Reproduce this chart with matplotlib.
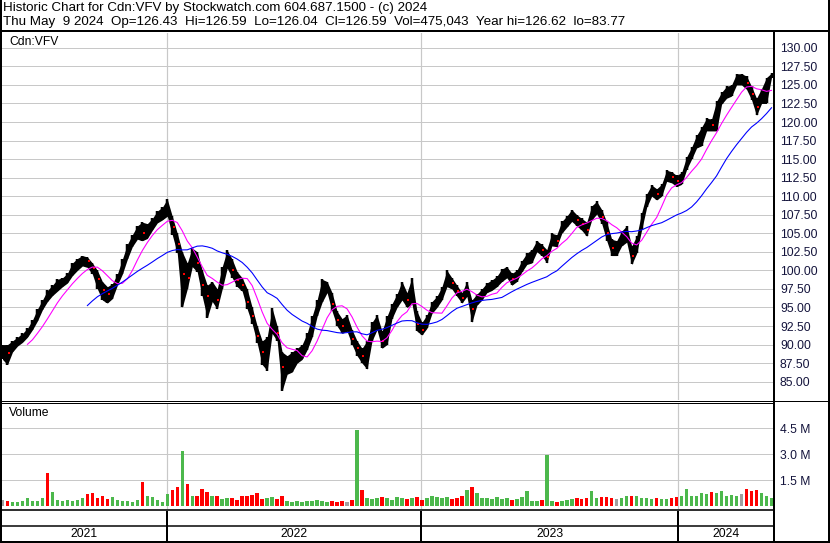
import matplotlib
matplotlib.use("Agg")
import matplotlib.pyplot as plt
import numpy as np
import pandas as pd

plt.rcParams['font.family'] = ['Liberation Sans', 'DejaVu Sans']

W, H = 830, 543

# weekly envelope of the daily bars (CAD)
high = [90.0, 90.0, 90.5, 91.0, 91.5, 92.2, 93.3, 94.8, 96.0, 97.3,
        98.0, 98.8, 99.0, 99.6, 101.0, 101.6, 102.0, 101.8, 101.0, 100.0,
        98.5, 97.8, 98.2, 99.5, 101.5, 103.5, 104.8, 106.0, 106.5, 106.3,
        107.0, 108.0, 108.5, 109.6, 107.3, 105.0, 102.5, 101.0, 103.0, 102.5,
        100.0, 98.0, 98.5, 97.5, 100.5, 102.7, 101.5, 99.8, 99.0, 97.5,
        95.0, 92.5, 90.5, 91.0, 94.9, 92.5, 89.0, 88.5, 89.0, 89.5,
        90.0, 91.5, 93.8, 96.0, 98.8, 98.5, 97.0, 94.5, 93.5, 94.0,
        92.0, 90.5, 89.5, 90.5, 93.0, 94.0, 91.8, 93.8, 95.5, 96.8,
        98.5, 97.0, 99.0, 94.5, 93.0, 94.0, 95.8, 96.5, 97.8, 100.0,
        99.0, 98.0, 97.0, 98.5, 96.0, 96.8, 97.5, 98.3, 98.7, 99.2,
        100.2, 100.5, 99.6, 100.0, 101.3, 102.3, 102.8, 104.0, 103.5, 102.8,
        105.0, 104.8, 106.6, 107.3, 108.2, 107.5, 107.0, 106.5, 108.7, 109.3,
        108.2, 106.5, 104.2, 104.0, 105.3, 106.0, 103.3, 104.6, 107.8, 110.3,
        111.5, 111.0, 111.6, 113.5, 113.3, 112.8, 113.2, 115.3, 116.6, 118.2,
        119.3, 120.5, 120.4, 122.8, 124.0, 124.8, 125.0, 126.5, 126.5, 126.2,
        124.8, 123.2, 124.5, 126.0, 126.6]
low = [88.0, 87.3, 89.0, 89.8, 90.3, 91.0, 92.0, 93.2, 94.7, 95.8,
       96.6, 97.2, 97.8, 98.3, 99.3, 100.0, 100.6, 100.4, 99.5, 97.5,
       96.0, 95.6, 96.2, 98.0, 99.5, 101.5, 103.2, 104.2, 104.0, 104.3,
       105.4, 106.4, 106.8, 107.3, 104.8, 102.3, 95.0, 97.5, 100.5, 99.8,
       96.5, 93.6, 95.8, 94.8, 97.5, 100.3, 99.0, 97.8, 97.2, 94.8,
       92.8, 90.2, 87.3, 86.5, 91.5, 90.5, 83.8, 86.0, 86.3, 87.5,
       88.0, 89.3, 91.0, 93.8, 95.7, 97.0, 94.5, 92.5, 91.5, 91.8,
       90.0, 88.5, 87.5, 86.7, 90.5, 92.0, 89.5, 90.0, 93.5, 95.0,
       96.0, 95.0, 95.5, 91.8, 91.3, 92.2, 94.2, 95.0, 96.0, 97.8,
       97.5, 96.5, 95.6, 96.5, 93.0, 95.3, 96.0, 97.0, 97.3, 97.8,
       98.5, 99.0, 98.0, 98.5, 99.8, 100.8, 101.0, 102.5, 102.0, 101.0,
       103.3, 103.2, 105.0, 105.8, 106.6, 106.0, 105.4, 104.6, 106.8, 107.6,
       106.3, 104.0, 102.0, 102.0, 103.3, 103.8, 100.8, 102.3, 105.5, 108.5,
       110.0, 109.5, 110.0, 112.0, 111.8, 111.3, 111.6, 113.6, 115.0, 116.5,
       116.8, 118.8, 118.8, 118.8, 122.4, 123.2, 123.5, 125.0, 125.0, 124.4,
       123.0, 120.9, 122.5, 122.5, 126.0]
close = [89.0, 88.8, 89.8, 90.3, 90.8, 91.5, 92.7, 94.0, 95.3, 96.5,
         97.3, 98.0, 98.3, 98.9, 100.2, 100.8, 101.3, 101.2, 100.3, 98.8,
         97.3, 96.8, 97.3, 98.8, 100.5, 102.5, 104.0, 105.2, 105.0, 105.3,
         106.2, 107.2, 107.5, 108.5, 105.8, 103.5, 99.5, 99.0, 102.0, 101.0,
         98.0, 96.5, 97.0, 96.0, 99.5, 101.5, 100.0, 98.7, 98.0, 95.7,
         93.8, 91.2, 89.0, 89.5, 93.2, 91.5, 87.0, 87.2, 87.8, 88.5,
         89.0, 90.5, 92.0, 95.0, 97.3, 97.8, 95.5, 93.3, 92.5, 92.5,
         90.8, 89.5, 88.5, 89.0, 92.0, 93.0, 90.5, 92.5, 94.5, 96.0,
         97.0, 96.0, 97.0, 92.8, 92.0, 93.0, 95.0, 95.8, 96.8, 98.7,
         98.3, 97.2, 96.3, 97.5, 94.8, 96.0, 96.8, 97.6, 98.0, 98.5,
         99.3, 99.8, 98.8, 99.3, 100.6, 101.6, 101.8, 103.3, 102.7, 101.8,
         104.2, 104.0, 105.8, 106.6, 107.4, 106.8, 106.2, 105.5, 107.8, 108.5,
         107.2, 105.0, 103.0, 103.0, 104.3, 104.8, 102.0, 103.5, 106.8, 109.5,
         110.7, 110.3, 110.8, 112.8, 112.6, 112.0, 112.5, 114.5, 115.8, 117.3,
         118.0, 119.7, 119.6, 121.0, 123.2, 124.0, 124.3, 125.8, 125.8, 125.2,
         123.8, 122.0, 123.5, 124.5, 126.59]
# millions of units
volume = [0.35, 0.3, 0.25, 0.2, 0.3, 0.45, 0.3, 0.3, 0.45, 1.9,
          0.8, 0.35, 0.3, 0.35, 0.3, 0.35, 0.45, 0.7, 0.75, 0.45,
          0.6, 0.4, 0.5, 0.35, 0.3, 0.3, 0.25, 0.35, 1.4, 0.6,
          0.5, 0.35, 0.25, 0.7, 0.9, 1.1, 3.2, 1.25, 0.55, 0.6,
          1.0, 0.8, 0.55, 0.6, 0.4, 0.45, 0.45, 0.35, 0.55, 0.6,
          0.65, 0.75, 0.4, 0.45, 0.5, 0.4, 0.55, 0.3, 0.25, 0.3,
          0.25, 0.3, 0.3, 0.35, 0.3, 0.25, 0.3, 0.25, 0.3, 0.25,
          0.35, 4.4, 0.9, 0.45, 0.4, 0.45, 0.5, 0.45, 0.35, 0.5,
          0.45, 0.4, 0.45, 0.5, 0.35, 0.45, 0.55, 0.5, 0.45, 0.5,
          0.4, 0.45, 0.55, 0.9, 1.1, 0.75, 0.45, 0.45, 0.4, 0.5,
          0.4, 0.45, 0.35, 0.4, 0.5, 0.85, 0.3, 0.3, 0.35, 2.95,
          0.3, 0.25, 0.3, 0.35, 0.4, 0.45, 0.4, 0.45, 0.85, 0.45,
          0.5, 0.5, 0.45, 0.4, 0.45, 0.55, 0.6, 0.55, 0.45, 0.45,
          0.4, 0.45, 0.4, 0.4, 0.45, 0.5, 0.55, 1.0, 0.55, 0.6,
          0.75, 0.7, 0.8, 0.75, 0.85, 0.6, 0.65, 0.55, 0.7, 1.0,
          0.85, 0.95, 0.75, 0.55, 0.45]
# colour of the big volume spikes as seen on the chart (up day = green)
spike_color = {9: 'down', 28: 'down', 36: 'up', 71: 'up', 109: 'up'}

year_labels = ['2021', '2022', '2023', '2024']
year_edges = [-0.1, 32.9, 83.9, 135.3, 154.3]   # week index where each year starts
price_ticks = np.arange(85, 130.01, 2.5)
vol_ticks = [1.5, 3.0, 4.5]

title1 = 'Historic Chart for Cdn:VFV by Stockwatch.com 604.687.1500 - (c) 2024'
title2 = ('Thu May  9 2024  Op=126.43  Hi=126.59  Lo=126.04  Cl=126.59  '
          'Vol=475,043  Year hi=126.62  lo=83.77')

PX = 0.72  # points per pixel
grid_c = '#C8C8C8'
lab_c = '#14143C'
up_c, down_c, flat_c = '#4CB84C', '#FF0000', '#A0A0A0'


def box(l, t, r, b):
    return [l / W, 1 - b / H, (r - l) / W, (b - t) / H]


fig = plt.figure(figsize=(W / 100, H / 100), dpi=100)

frame = fig.add_axes([0, 0, 1, 1])
frame.set_xlim(0, W)
frame.set_ylim(H, 0)
frame.axis('off')

ax = fig.add_axes(box(2, 33, 773, 400))
axv = fig.add_axes(box(2, 404, 773, 509), sharex=ax)
axd = fig.add_axes(box(2, 511, 773, 541), sharex=ax)
for a in (ax, axv, axd):
    a.set_facecolor('none')
    for s in a.spines.values():
        s.set_visible(False)
    a.tick_params(axis='x', length=0, labelbottom=False)

weeks = np.arange(len(close))
c = pd.Series(close)
chg = c.diff().fillna(0)

# price panel
ax.set_xlim(-0.1, 154.3)
ax.set_ylim(82.53, 132.0)
ax.set_yticks(price_ticks)
ax.yaxis.tick_right()
ax.yaxis.set_major_formatter(matplotlib.ticker.FormatStrFormatter('%.2f'))
ax.tick_params(axis='y', length=0, pad=5, labelsize=8.7, labelcolor=lab_c)
ax.grid(axis='y', color=grid_c, lw=PX)
ax.set_xticks([])
for e in year_edges[1:4]:
    ax.axvline(e, color=grid_c, lw=1.2 * PX)
ax.fill_between(weeks, low, high, color='black', lw=0, zorder=3)
ax.vlines(weeks, low, high, color='black', lw=2.5 * PX, zorder=3)
down = chg < 0
ax.plot(weeks[down] + 0.25, c[down], 's', color='red', ms=1.8, mew=0, zorder=4)
ax.plot(weeks, c.rolling(6).mean(), color='#FF00FF', lw=1.1 * PX, zorder=5)
ax.plot(weeks, c.rolling(18).mean(), color='#0000FF', lw=1.1 * PX, zorder=5)

# volume panel
axv.set_ylim(-0.18, 5.91)
axv.set_yticks(vol_ticks)
axv.yaxis.tick_right()
axv.yaxis.set_major_formatter(matplotlib.ticker.FormatStrFormatter('%.1f M'))
axv.tick_params(axis='y', length=0, pad=5, labelsize=8.7, labelcolor=lab_c)
axv.grid(axis='y', color=grid_c, lw=PX)
for e in year_edges[1:4]:
    axv.axvline(e, color=grid_c, lw=1.2 * PX)
vcol = []
for i, d in enumerate(chg):
    if i in spike_color:
        vcol.append(up_c if spike_color[i] == 'up' else down_c)
    else:
        vcol.append(down_c if d < 0 else (up_c if d > 0 else flat_c))
axv.bar(weeks, volume, width=0.7, color=vcol, zorder=3)

# date strip
axd.set_ylim(0, 1)
axd.set_yticks([])
axd.axhline(0.5, color='black', lw=1.5 * PX)
for e in year_edges[1:4]:
    axd.axvline(e, color='black', lw=2 * PX)
for lab, a0, a1 in zip(year_labels, year_edges[:-1], year_edges[1:]):
    axd.text((a0 + a1) / 2, 0.22, lab, ha='center', va='center', fontsize=8.7, color='black')

# frame lines and header
k = dict(color='black', solid_capstyle='butt')
frame.plot([0, W], [31, 31], lw=2 * PX, **k)
frame.plot([774, 774], [31, H], lw=2 * PX, **k)
frame.plot([0, W], [401, 401], lw=PX, **k)
frame.plot([0, 774], [403, 403], lw=PX, **k)
frame.plot([0, 774], [510, 510], lw=1.6 * PX, **k)
frame.plot([1, 1], [0, H], lw=2 * PX, **k)
frame.plot([W - 1, W - 1], [0, H], lw=2 * PX, **k)
frame.plot([0, W], [542, 542], lw=2 * PX, **k)

frame.text(3, 11.5, title1, fontsize=9.6, va='baseline', ha='left')
frame.text(3, 25, title2, fontsize=9.6, va='baseline', ha='left')
frame.text(9, 42, 'Cdn:VFV', fontsize=8.7, va='center', ha='left')
frame.text(9, 413, 'Volume', fontsize=8.7, va='center', ha='left')

fig.savefig('out.png', dpi=100)
